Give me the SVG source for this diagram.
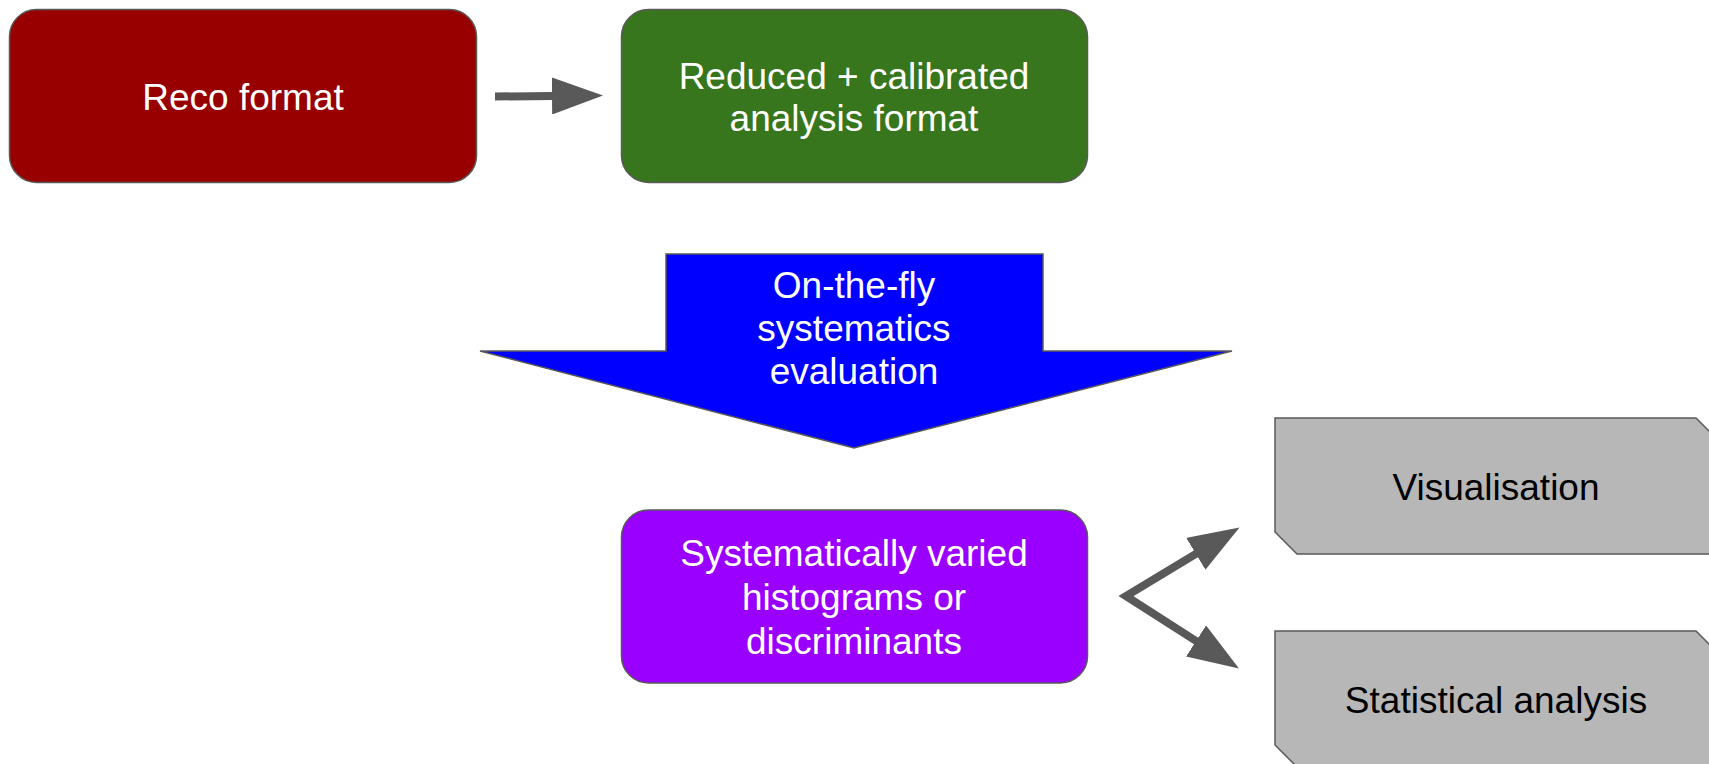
<svg xmlns="http://www.w3.org/2000/svg" width="1709" height="764" viewBox="0 0 1709 764">
<style>
.box{stroke:#595959;stroke-width:1.5}
.t{font-family:"Liberation Sans",Arial,sans-serif;font-size:37px;text-anchor:middle}
.w{fill:#ffffff}
.k{fill:#000000}
.conn{stroke:#595959;stroke-width:8;fill:none}
</style>
<defs>
<marker id="ah" markerUnits="userSpaceOnUse" markerWidth="51" markerHeight="37" viewBox="0 0 51 37" refX="1" refY="18.5" orient="auto-start-reverse">
<path d="M0,0 L51,18.5 L0,37 z" fill="#595959"/>
</marker>
</defs>
<rect width="1709" height="764" fill="#ffffff"/>
<g id="reco">
<rect class="box" x="9.5" y="9.5" width="467" height="173" rx="27" fill="#980000"/>
<text class="t w" x="243" y="110">Reco format</text>
</g>
<g id="reduced">
<rect class="box" x="621.5" y="9.5" width="466" height="173" rx="27" fill="#38761d"/>
<text class="t w" x="854" y="89">Reduced + calibrated</text>
<text class="t w" x="854" y="131">analysis format</text>
</g>
<g id="onthefly">
<polygon class="box" points="666,254 1043,254 1043,351 1232,351 854,448 480,351 666,351" fill="#0000ff"/>
<text class="t w" x="854" y="298">On-the-fly</text>
<text class="t w" x="854" y="341">systematics</text>
<text class="t w" x="854" y="384">evaluation</text>
</g>
<g id="varied">
<rect class="box" x="621.5" y="510" width="466" height="173" rx="27" fill="#9900ff"/>
<text class="t w" x="854" y="566">Systematically varied</text>
<text class="t w" x="854" y="610">histograms or</text>
<text class="t w" x="854" y="654">discriminants</text>
</g>
<g id="visualisation">
<polygon class="box" points="1275,418 1696,418 1718,440 1718,554 1297,554 1275,532" fill="#b7b7b7"/>
<text class="t k" x="1496" y="500">Visualisation</text>
</g>
<g id="statistical">
<polygon class="box" points="1275,631 1696,631 1718,653 1718,767 1297,767 1275,745" fill="#b7b7b7"/>
<text class="t k" x="1496" y="713">Statistical analysis</text>
</g>
<g id="connectors">
<line class="conn" x1="495" y1="96.5" x2="553" y2="96" marker-end="url(#ah)"/>
<path class="conn" d="M1196.7,553.3 L1126,596 L1196.9,641.5" stroke-linejoin="miter" marker-start="url(#ah)" marker-end="url(#ah)"/>
</g>
</svg>
